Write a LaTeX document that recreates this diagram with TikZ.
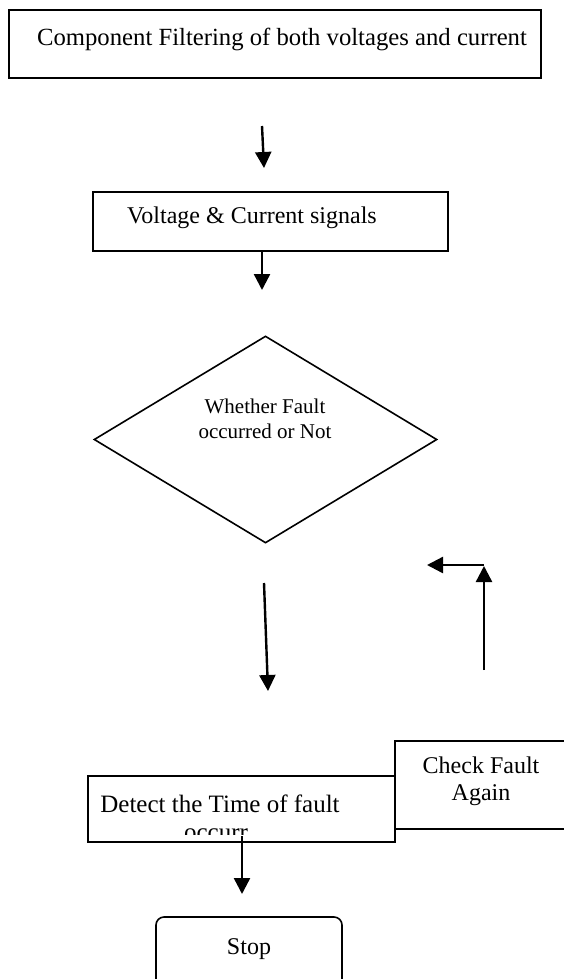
\documentclass[tikz,border=0pt]{standalone}
\usepackage{fontspec}
\setmainfont{Liberation Serif}
\usetikzlibrary{shapes.geometric,arrows.meta}
\begin{document}
\begin{tikzpicture}[x=0.5pt,y=-0.5pt,
 boxs/.style={draw,line width=0.8pt,inner sep=0pt},
 txt/.style={font=\fontsize{12}{14}\selectfont,inner sep=0pt,anchor=base},
 stxt/.style={font=\fontsize{10.5}{12.5}\selectfont,inner sep=0pt,anchor=base},
 arr/.style={line width=1.2pt,-{Triangle[length=8pt,width=8pt]}}]
\useasboundingbox (0,0) rectangle (563,979);
% boxes
\node[boxs,minimum width=266pt,minimum height=34pt] (top) at (275,44) {};
\node[txt,font=\fontsize{12.35}{14}\selectfont] (toptxt) at (282,46) {Component Filtering of both voltages and current};
\node[boxs,minimum width=177.5pt,minimum height=29.5pt] (volt) at (270.5,221.5) {};
\node[txt] (volttxt) at (252,223) {Voltage \& Current signals};
\node[boxs,diamond,minimum width=171.5pt,minimum height=103.5pt] (dec) at (265.5,439.5) {};
\node[stxt] (dect1) at (265,413) {Whether Fault};
\node[stxt] (dect2) at (265,438) {occurred or Not};
\node[boxs,minimum width=153.5pt,minimum height=33pt] (det) at (241.5,809) {};
\node[txt,font=\fontsize{12.5}{14}\selectfont] (dettxt) at (220,812) {Detect the Time of fault};
\begin{scope}
\clip (88,776) rectangle (395,834);
\node[txt,font=\fontsize{12.5}{14}\selectfont] (dettxt2) at (216,840) {occurr};
\end{scope}
\node[boxs,minimum width=110pt,minimum height=44pt] (chk) at (505,785) {};
\node[txt] (chk1) at (481,773) {Check Fault};
\node[txt] (chk2) at (481,800) {Again};
\node[boxs,rounded corners=4pt,minimum width=93pt,minimum height=36.5pt] (stop) at (249,953.5) {};
\node[txt] (stoptxt) at (249,954) {Stop};
% arrows
\coordinate (a1s) at (262,126); \coordinate (a1e) at (264,168);
\draw[arr] (a1s) -- (a1e);
\coordinate (a2e) at (262,290);
\draw[arr] (volt.south -| a2e) -- (a2e);
\coordinate (a3s) at (264,583); \coordinate (a3e) at (268,691);
\draw[arr] (a3s) -- (a3e);
\coordinate (a4s) at (484,670); \coordinate (a4e) at (484,566);
\draw[arr] (a4s) -- (a4e);
\coordinate (a5e) at (427,565);
\draw[arr] (484,565) -- (a5e);
\coordinate (a6s) at (242,836); \coordinate (a6e) at (242,894);
\draw[arr] (a6s) -- (a6e);
\end{tikzpicture}
\end{document}
